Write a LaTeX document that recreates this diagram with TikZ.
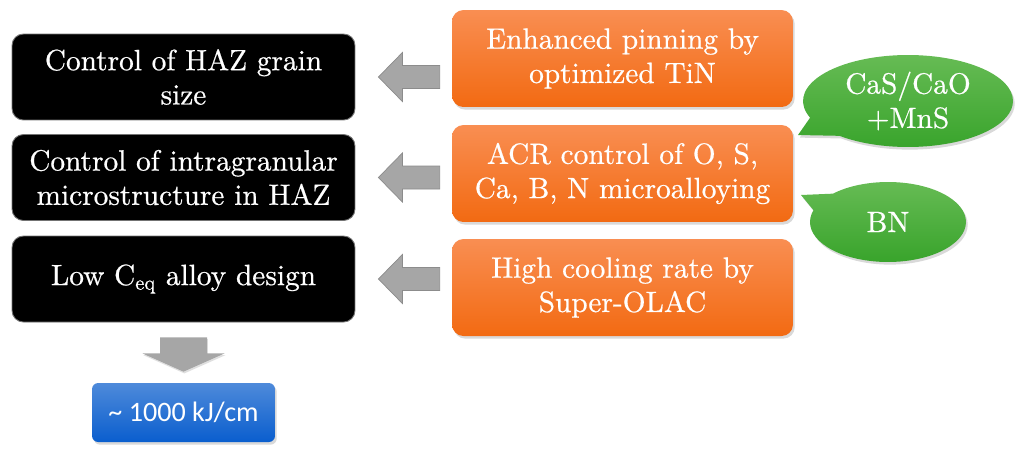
\documentclass[tikz,border=0pt]{standalone}
\usepackage{fontspec}
\newfontfamily\serifbody{lmroman10-regular.otf}[BoldFont=lmroman10-regular.otf, BoldFeatures={FakeBold=0.6}]
\newfontfamily\calfont{Carlito}
\usetikzlibrary{positioning,calc,shadows,shapes.callouts}
\definecolor{orgtop}{RGB}{249,142,82}
\definecolor{orgbot}{RGB}{242,106,18}
\definecolor{grntop}{RGB}{102,187,84}
\definecolor{grnbot}{RGB}{55,163,42}
\definecolor{blutop}{RGB}{78,138,218}
\definecolor{blubot}{RGB}{10,94,206}
\definecolor{arrgray}{RGB}{166,166,166}

\begin{document}
\begin{tikzpicture}[
  x=0.02cm, y=-0.02cm,
  font=\serifbody\bfseries\fontsize{16.7}{19.5}\selectfont,
  goal/.style={draw=black!55, line width=0.5pt, fill=black, text=white, rounded corners=6.5pt, align=center, minimum width=6.86cm, minimum height=1.72cm, inner sep=2pt},
  means/.style={draw=none, top color=orgtop, bottom color=orgbot, text=white, rounded corners=6.5pt, align=center, minimum width=6.82cm, minimum height=1.94cm, inner sep=2pt, drop shadow={shadow xshift=1pt, shadow yshift=-1.5pt, opacity=0.3}},
  bubble/.style={ellipse callout, draw=none, top color=grntop, bottom color=grnbot, text=white, align=center, inner sep=0pt, callout pointer arc=28, drop shadow={shadow xshift=1pt, shadow yshift=-1.5pt, opacity=0.3}},
  result/.style={draw=none, top color=blutop, bottom color=blubot, text=white, rounded corners=3.5pt, align=center, minimum width=3.66cm, minimum height=1.18cm, inner sep=2pt, font=\calfont\fontsize{16}{18}\selectfont, drop shadow={shadow xshift=1pt, shadow yshift=-1.5pt, opacity=0.3}},
  blk/.style={fill=arrgray, draw=black!45, line width=0.4pt, line join=miter},
  ]
\useasboundingbox (0,0) rectangle (1024,454);
% left column: goals
\node[goal] (grain) at (183.5,77)  {Control of HAZ grain\\size};
\node[goal] (intra) at (183.5,177.5) {Control of intragranular\\microstructure in HAZ};
\node[goal] (ceq)   at (183.5,279) {Low C\textsubscript{eq} alloy design};
% right column: means
\node[means] (tin)  at (622.5,58.5)  {Enhanced pinning by\\optimized TiN};
\node[means] (acr)  at (622.5,173.5) {ACR control of O, S,\\Ca, B, N microalloying};
\node[means] (olac) at (622.5,287.5) {High cooling rate by\\Super-OLAC};
% particles
\node[bubble, minimum width=4.2cm, minimum height=1.84cm, callout absolute pointer={(798,135)}] (cas) at (908,101) {CaS/CaO\\+MnS};
\node[bubble, minimum width=3.12cm, minimum height=1.6cm, callout absolute pointer={(801,195)}] (bn) at (888,222) {BN};
% heat input
\node[result] (heat) at (183.5,412.5) {\textasciitilde\ 1000 kJ/cm};
% block arrows
\newcommand{\blockleft}[2]{%
  \draw[blk] ($(#1.east)+(23,0)$) -- ($(#1.east)+(47,-24.5)$) -- ($(#1.east)+(47,-11.5)$)
    -- ($(#2.west|-#1.east)+(-12,-11.5)$) -- ($(#2.west|-#1.east)+(-12,11.5)$)
    -- ($(#1.east)+(47,11.5)$) -- ($(#1.east)+(47,24.5)$) -- cycle;}
\blockleft{grain}{tin}
\blockleft{intra}{acr}
\blockleft{ceq}{olac}
\draw[blk, draw=none, drop shadow={shadow xshift=0.5pt, shadow yshift=-1pt, opacity=0.25}]
  ($(ceq.south)+(-23.5,15)$) -- ++(47,0) -- ++(0,16) -- ++(17.5,0)
  -- ($(heat.north)+(0,-11)$) -- ($(ceq.south)+(-41,31)$) -- ++(17.5,0) -- cycle;
\end{tikzpicture}
\end{document}
